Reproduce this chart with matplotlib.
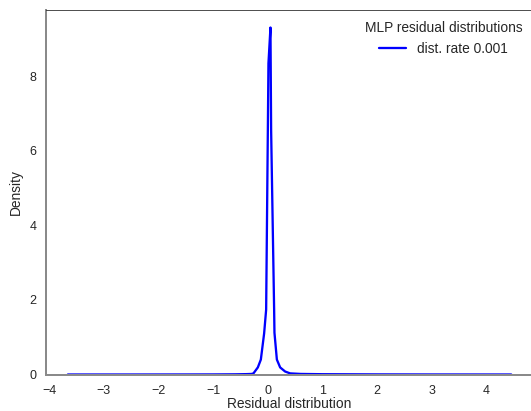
import matplotlib
matplotlib.use("Agg")
import matplotlib.pyplot as plt
import seaborn as sns

# KDE curve of the MLP residuals
residual_x = [-3.66, -2.5, -1.5, -1.0, -0.6, -0.4, -0.30, -0.265, -0.185, -0.13,
              -0.07, -0.033, -0.002, 0.009, 0.046, 0.058, 0.113, 0.119, 0.163,
              0.223, 0.314, 0.406, 0.6, 1.0, 2.0, 3.0, 4.45]
density_y = [0.0, 0.0, 0.001, 0.002, 0.005, 0.01, 0.015, 0.03, 0.19, 0.40,
             1.10, 1.74, 6.55, 8.34, 9.30, 6.55, 1.74, 1.12, 0.40,
             0.19, 0.08, 0.03, 0.015, 0.008, 0.003, 0.001, 0.0]
series_label = "dist. rate 0.001"
legend_title = "MLP residual distributions"

sns.set_style("white")
plt.rcParams['font.family'] = ['Liberation Sans', 'DejaVu Sans']

fig = plt.figure(figsize=(531 / 72, 411 / 72), dpi=72)
ax = fig.add_axes([45.7 / 531, 0.0888, (533.4 - 45.7) / 531, 0.9757 - 0.0888])

ax.plot(residual_x, density_y, color='#0000ff', lw=2.3, label=series_label)

ax.set_xlim(-4.065, 4.855)
ax.set_ylim(0, 9.77)
ax.set_xticks([-4, -3, -2, -1, 0, 1, 2, 3, 4])
ax.set_yticks([0, 2, 4, 6, 8])

ax.tick_params(axis='both', length=0, labelsize=12.5, colors='#262626')
ax.tick_params(axis='x', pad=10)
ax.tick_params(axis='y', pad=9)
ax.set_xlabel('Residual distribution', fontsize=13.7, color='#262626', labelpad=0.5)
ax.set_ylabel('Density', fontsize=13.7, color='#262626', labelpad=7)

for side in ['left', 'bottom']:
    ax.spines[side].set_color('#8a8a8a')
    ax.spines[side].set_linewidth(2)
ax.spines['top'].set_color('#262626')
ax.spines['right'].set_color('#262626')

leg = ax.legend(title=legend_title, loc='upper right', frameon=False,
                fontsize=13.7, title_fontsize=13.7, borderaxespad=0.4,
                handlelength=2)
leg.get_title().set_color('#262626')
for t in leg.get_texts():
    t.set_color('#262626')

fig.savefig('out.png', dpi=72)
